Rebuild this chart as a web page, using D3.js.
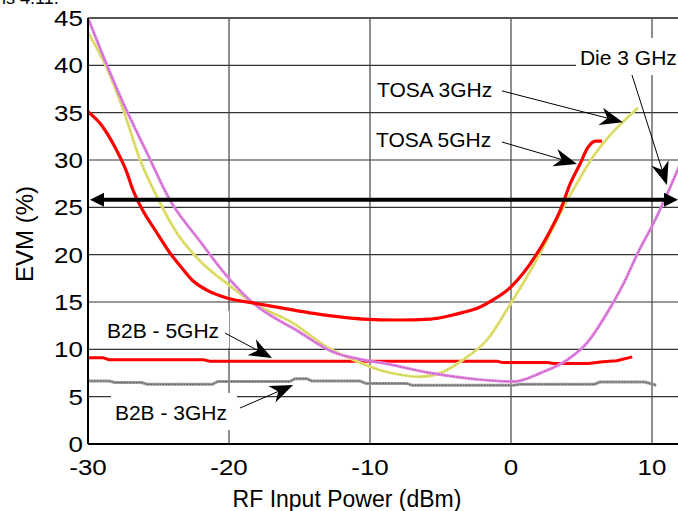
<!DOCTYPE html>
<html lang="en">
  <head>
    <meta charset="UTF-8" />
    <title>EVM vs RF Input Power</title>
    <style>
      body {
        margin: 0;
        background: #fff;
      }
      text {
        font-family: "Liberation Sans", Arial, sans-serif;
        fill: #000;
      }
    </style>
  </head>
  <body>
    <div id="chart"></div>

    <script src="https://d3js.org/d3.v7.min.js"></script>
    <script>
      // ticks
      const xTicks = [-30, -20, -10, 0, 10];
      const yTicks = [0, 5, 10, 15, 20, 25, 30, 35, 40, 45];

      // TOSA 5GHz (red)
      const tosa5X = [-30, -29, -28.1, -27.3, -26.8, -26.2, -25.2, -24.2, -23.4, -22.6, -21.5, -20.1, -18.3, -16, -14, -12, -10.5, -8, -5.7, -4.5, -3.4, -2.3, -1.3, 0, 0.85, 1.84, 2.55, 3.5, 4.2, 4.9, 5.4, 6.0, 6.45];
      const tosa5Y = [35.1, 33.6, 31.4, 28.9, 26.8, 24.9, 22.5, 20.2, 18.7, 17.3, 16.2, 15.4, 14.9, 14.3, 13.8, 13.4, 13.2, 13.1, 13.2, 13.5, 13.9, 14.4, 15.2, 16.6, 18.0, 20.1, 21.9, 24.7, 27.5, 29.6, 31.2, 32.0, 32.0];

      // TOSA 3GHz (yellow)
      const tosa3X = [-30, -28.6, -27.5, -26.3, -25.0, -23.7, -22.1, -20.1, -18.3, -15.5, -13.0, -11.2, -9.3, -7.8, -6.5, -5.0, -3.4, -1.7, 0, 1.1, 2.3, 3.5, 4.7, 5.8, 7.2, 8.2, 9.0];
      const tosa3Y = [43.5, 39.5, 35.3, 30.0, 25.8, 22.3, 19.4, 16.9, 14.9, 12.8, 10.2, 8.9, 7.8, 7.3, 7.1, 7.5, 8.9, 11.0, 14.9, 17.6, 20.8, 24.4, 27.6, 30.3, 32.9, 34.4, 35.5];

      // Die 3 GHz (magenta)
      const die3X = [-30, -28.9, -27.5, -25.8, -24.2, -22.1, -19.9, -18.3, -15.2, -12.6, -10.5, -9.3, -5.7, -2.2, 0.2, 2.1, 4.0, 5.4, 6.8, 8.0, 9.1, 10.1, 11.1, 12.0];
      const die3Y = [45, 40.9, 36.0, 30.7, 25.8, 21.5, 17.3, 14.9, 12.0, 9.7, 8.9, 8.6, 7.5, 6.8, 6.6, 7.5, 8.9, 10.7, 13.8, 17.0, 20.5, 23.3, 26.5, 29.6];

      // B2B - 5GHz (red)
      const b2b5X = [-30, -28.9, -28.5, -21.8, -21.4, -1, -0.6, 2.6, 3, 5.5, 6.5, 7.5, 8.6];
      const b2b5Y = [9.1, 9.1, 8.9, 8.9, 8.75, 8.75, 8.6, 8.6, 8.5, 8.5, 8.7, 8.8, 9.2];

      // B2B - 3GHz (grey)
      const b2b3X = [-30, -28.5, -28.1, -26.2, -25.8, -21.2, -20.8, -15.7, -15.3, -14.5, -14.1, -10.7, -10.3, -7.4, -7.0, 0.2, 0.6, 5.9, 6.3, 9.5, 10.3];
      const b2b3Y = [6.65, 6.65, 6.5, 6.5, 6.3, 6.3, 6.6, 6.6, 6.9, 6.9, 6.65, 6.65, 6.4, 6.4, 6.2, 6.2, 6.3, 6.3, 6.55, 6.55, 6.2];

      // threshold arrow level
      const limitEVM = 25.8;

      // annotations: label, text pos, line start, arrow tip (data units)
      const notes = [
        { label: "TOSA 3GHz", tx: -9.5, ty: 36.65, sx: -0.64, sy: 37.3, ex: 7.94, ey: 34.0 },
        { label: "TOSA 5GHz", tx: -9.57, ty: 31.37, sx: -0.64, sy: 31.9, ex: 4.68, ey: 29.58 },
        { label: "Die 3 GHz", tx: 4.89, ty: 40.03, sx: 8.58, sy: 38.98, ex: 11.06, ey: 27.36 },
        { label: "B2B  - 5GHz", tx: -28.65, ty: 11.2, sx: -20.28, sy: 11.72, ex: -16.95, ey: 9.08 },
        { label: "B2B  - 3GHz", tx: -28.09, ty: 2.54, sx: -19.22, sy: 3.8, ex: -15.46, ey: 6.23 },
      ];

      const width = 678,
        height = 511;
      const mLeft = 88,
        mTop = 18,
        mBottom = 444;

      const x = d3.scaleLinear().domain([-30, 10]).range([mLeft, 652]);
      const y = d3.scaleLinear().domain([0, 45]).range([mBottom, mTop]);

      const svg = d3
        .select("#chart")
        .append("svg")
        .attr("width", width)
        .attr("height", height);

      svg
        .append("defs")
        .append("clipPath")
        .attr("id", "plot")
        .append("rect")
        .attr("x", mLeft)
        .attr("y", mTop - 2)
        .attr("width", width - mLeft)
        .attr("height", mBottom - mTop + 2);

      // caption from the page above, cut off by the crop
      svg
        .append("text")
        .attr("x", 2)
        .attr("y", 4)
        .style("font-size", "18px")
        .text("is 4.11.");

      // grid
      const grid = svg.append("g");
      grid
        .selectAll("line.h")
        .data(yTicks.filter((d) => d > 0 && d < 45))
        .enter()
        .append("line")
        .attr("x1", mLeft)
        .attr("x2", width)
        .attr("y1", (d) => y(d))
        .attr("y2", (d) => y(d))
        .attr("stroke", "#333")
        .attr("stroke-width", 1.2);
      grid
        .selectAll("line.v")
        .data(xTicks.filter((d) => d > -30))
        .enter()
        .append("line")
        .attr("x1", (d) => x(d))
        .attr("x2", (d) => x(d))
        .attr("y1", mTop)
        .attr("y2", mBottom)
        .attr("stroke", "#444")
        .attr("stroke-width", 1.2);

      // top border
      svg
        .append("line")
        .attr("x1", mLeft)
        .attr("x2", width)
        .attr("y1", y(45))
        .attr("y2", y(45))
        .attr("stroke", "#555")
        .attr("stroke-width", 2);

      // label boxes cover the grid
      const boxes = svg.append("g");

      // curves
      const plot = svg.append("g").attr("clip-path", "url(#plot)");
      const line = d3
        .line()
        .x((d) => x(d[0]))
        .y((d) => y(d[1]))
        .curve(d3.curveMonotoneX);
      const step = d3
        .line()
        .x((d) => x(d[0]))
        .y((d) => y(d[1]));

      function draw(xs, ys, gen, base, w, dot) {
        const pts = d3.zip(xs, ys);
        plot
          .append("path")
          .attr("d", gen(pts))
          .attr("fill", "none")
          .attr("stroke", base)
          .attr("stroke-width", w)
          .attr("stroke-linejoin", "round");
        if (dot) {
          plot
            .append("path")
            .attr("d", gen(pts))
            .attr("fill", "none")
            .attr("stroke", dot)
            .attr("stroke-width", 1)
            .attr("stroke-dasharray", "1.5,1.5");
        }
      }

      draw(b2b3X, b2b3Y, step, "#9a9a9a", 3, "#555");
      draw(b2b5X, b2b5Y, step, "#ff0000", 3);
      draw(tosa3X, tosa3Y, line, "#e4e47a", 3, "#bcbc3a");
      draw(die3X, die3Y, line, "#e28ae2", 3, "#b444b4");
      draw(tosa5X, tosa5Y, line, "#ff0000", 3.2);

      // double arrow at EVM limit
      const ay = y(limitEVM);
      svg
        .append("line")
        .attr("x1", mLeft + 8)
        .attr("x2", width - 8)
        .attr("y1", ay)
        .attr("y2", ay)
        .attr("stroke", "#000")
        .attr("stroke-width", 4);
      svg
        .append("path")
        .attr(
          "d",
          `M${mLeft + 2},${ay} L${mLeft + 16},${ay - 7} L${mLeft + 16},${ay + 7} Z`
        )
        .attr("fill", "#000");
      svg
        .append("path")
        .attr(
          "d",
          `M${width},${ay} L${width - 14},${ay - 7} L${width - 14},${ay + 7} Z`
        )
        .attr("fill", "#000");

      // axes lines
      svg
        .append("line")
        .attr("x1", mLeft)
        .attr("x2", mLeft)
        .attr("y1", mTop)
        .attr("y2", mBottom)
        .attr("stroke", "#000")
        .attr("stroke-width", 2);
      svg
        .append("line")
        .attr("x1", mLeft)
        .attr("x2", width)
        .attr("y1", mBottom)
        .attr("y2", mBottom)
        .attr("stroke", "#000")
        .attr("stroke-width", 2);

      // tick labels (the source figure renders them a bit wide)
      function widen(sel, f) {
        sel.each(function () {
          const w = this.getComputedTextLength();
          d3.select(this)
            .attr("textLength", w * f)
            .attr("lengthAdjust", "spacingAndGlyphs");
        });
      }
      svg
        .append("g")
        .selectAll("text")
        .data(yTicks)
        .enter()
        .append("text")
        .attr("x", mLeft - 5)
        .attr("y", (d) => y(d) + 8)
        .attr("text-anchor", "end")
        .style("font-size", "22px")
        .text((d) => d)
        .call(widen, 1.18);
      svg
        .append("g")
        .selectAll("text")
        .data(xTicks)
        .enter()
        .append("text")
        .attr("x", (d) => x(d))
        .attr("y", mBottom + 31)
        .attr("text-anchor", "middle")
        .style("font-size", "22px")
        .text((d) => d)
        .call(widen, 1.18);

      // axis titles
      svg
        .append("text")
        .attr("x", 347)
        .attr("y", 507)
        .attr("text-anchor", "middle")
        .style("font-size", "23px")
        .text("RF Input Power (dBm)");
      svg
        .append("text")
        .attr("transform", "translate(33,234) rotate(-90)")
        .attr("text-anchor", "middle")
        .style("font-size", "24px")
        .text("EVM (%)");

      // annotations
      const ann = svg.append("g");
      notes.forEach((n) => {
        const t = ann
          .append("text")
          .attr("x", x(n.tx))
          .attr("y", y(n.ty))
          .style("font-size", "21px")
          .text(n.label);
        const b = t.node().getBBox();
        boxes
          .append("rect")
          .attr("x", b.x - 4)
          .attr("y", b.y - 8)
          .attr("width", b.width + 14)
          .attr("height", b.height + 14)
          .attr("fill", "#fff");

        const x0 = x(n.sx),
          y0 = y(n.sy),
          x1 = x(n.ex),
          y1 = y(n.ey);
        const ang = Math.atan2(y1 - y0, x1 - x0);
        ann
          .append("line")
          .attr("x1", x0)
          .attr("y1", y0)
          .attr("x2", x1 - 14 * Math.cos(ang))
          .attr("y2", y1 - 14 * Math.sin(ang))
          .attr("stroke", "#000")
          .attr("stroke-width", 1);
        ann
          .append("path")
          .attr("d", "M0,0 L-23,-9 L-16,0 L-23,9 Z")
          .attr("transform", `translate(${x1},${y1}) rotate(${(ang * 180) / Math.PI})`)
          .attr("fill", "#000");
      });
    </script>
  </body>
</html>
